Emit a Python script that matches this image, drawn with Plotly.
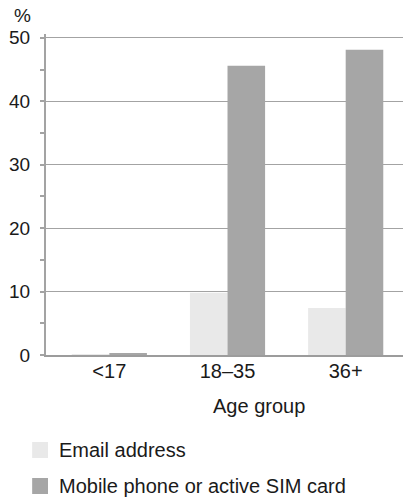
import plotly.graph_objects as go

categories = ["<17", "18–35", "36+"]
series_names = ["Email address", "Mobile phone or active SIM card"]
email_values = [0.1, 9.8, 7.4]
mobile_values = [0.3, 45.6, 48.1]
y_tick_values = [0, 10, 20, 30, 40, 50]
y_unit_label = "%"
x_axis_title = "Age group"

colors = ["#e9e9e9", "#a6a6a6"]
FONT = "Liberation Sans, Arial, sans-serif"
TXT = "#1a1a1a"

W, H = 412, 502
PLOT_X0, PLOT_X1, PLOT_Y0, PLOT_Y1 = 42, 403, 34, 355
L, R, T, B = PLOT_X0, W - PLOT_X1, PLOT_Y0, H - PLOT_Y1
PW, PH = PLOT_X1 - PLOT_X0, PLOT_Y1 - PLOT_Y0


def px_x(px):
    return (px - PLOT_X0) / PW


def px_y(py):
    return (PLOT_Y1 - py) / PH


fig = go.Figure()
for name, vals, col in zip(series_names, [email_values, mobile_values], colors):
    fig.add_trace(go.Bar(x=categories, y=vals, name=name, marker=dict(color=col, line=dict(width=0)),
                         showlegend=False))

fig.update_layout(
    width=W, height=H,
    margin=dict(l=L, r=R, t=T, b=B, pad=0),
    paper_bgcolor="white", plot_bgcolor="white",
    barmode="group", bargap=0.364, bargroupgap=0,
    font=dict(family=FONT, color=TXT),
    xaxis=dict(
        range=[-0.536, 2.485], showgrid=False, zeroline=False,
        showline=True, linecolor="#9c9c9c", linewidth=2,
        ticks="", tickfont=dict(size=20, color=TXT, family=FONT), ticklabelstandoff=-3,
    ),
    yaxis=dict(
        range=[0, 50.6], tickvals=y_tick_values, showgrid=True, gridcolor="#a3a3a3", gridwidth=1.2,
        zeroline=False, showline=True, linecolor="#a3a3a3", linewidth=2,
        ticks="outside", ticklen=4, tickcolor="#a3a3a3", tickwidth=1.5,
        tickfont=dict(size=19, color=TXT, family=FONT), ticklabelstandoff=6,
        minor=dict(dtick=5, ticks="outside", ticklen=4, tickcolor="#a3a3a3", tickwidth=1.5, showgrid=False),
    ),
)

annotations = [
    dict(text=y_unit_label, x=px_x(18), y=px_y(15), xref="paper", yref="paper",
         xanchor="center", yanchor="middle", showarrow=False, font=dict(size=19, color=TXT, family=FONT)),
    dict(text=x_axis_title, x=px_x(257), y=px_y(406), xref="paper", yref="paper",
         xanchor="center", yanchor="middle", showarrow=False, font=dict(size=20, color=TXT, family=FONT)),
]
shapes = []
legend_rows = [450, 486]
for name, col, cy in zip(series_names, colors, legend_rows):
    shapes.append(dict(type="rect", xref="paper", yref="paper", x0=px_x(28), x1=px_x(44),
                       y0=px_y(cy + 8), y1=px_y(cy - 8), fillcolor=col, line=dict(width=0)))
    annotations.append(dict(text=name, x=px_x(53), y=px_y(cy), xref="paper", yref="paper",
                            xanchor="left", yanchor="middle", showarrow=False,
                            font=dict(size=20, color=TXT, family=FONT)))

fig.update_layout(annotations=annotations, shapes=shapes)
# remove the page's default body margin so the figure fills the window exactly
fig.write_html("out.html", config={"displayModeBar": False},
               post_script="document.body.style.margin='0';")
